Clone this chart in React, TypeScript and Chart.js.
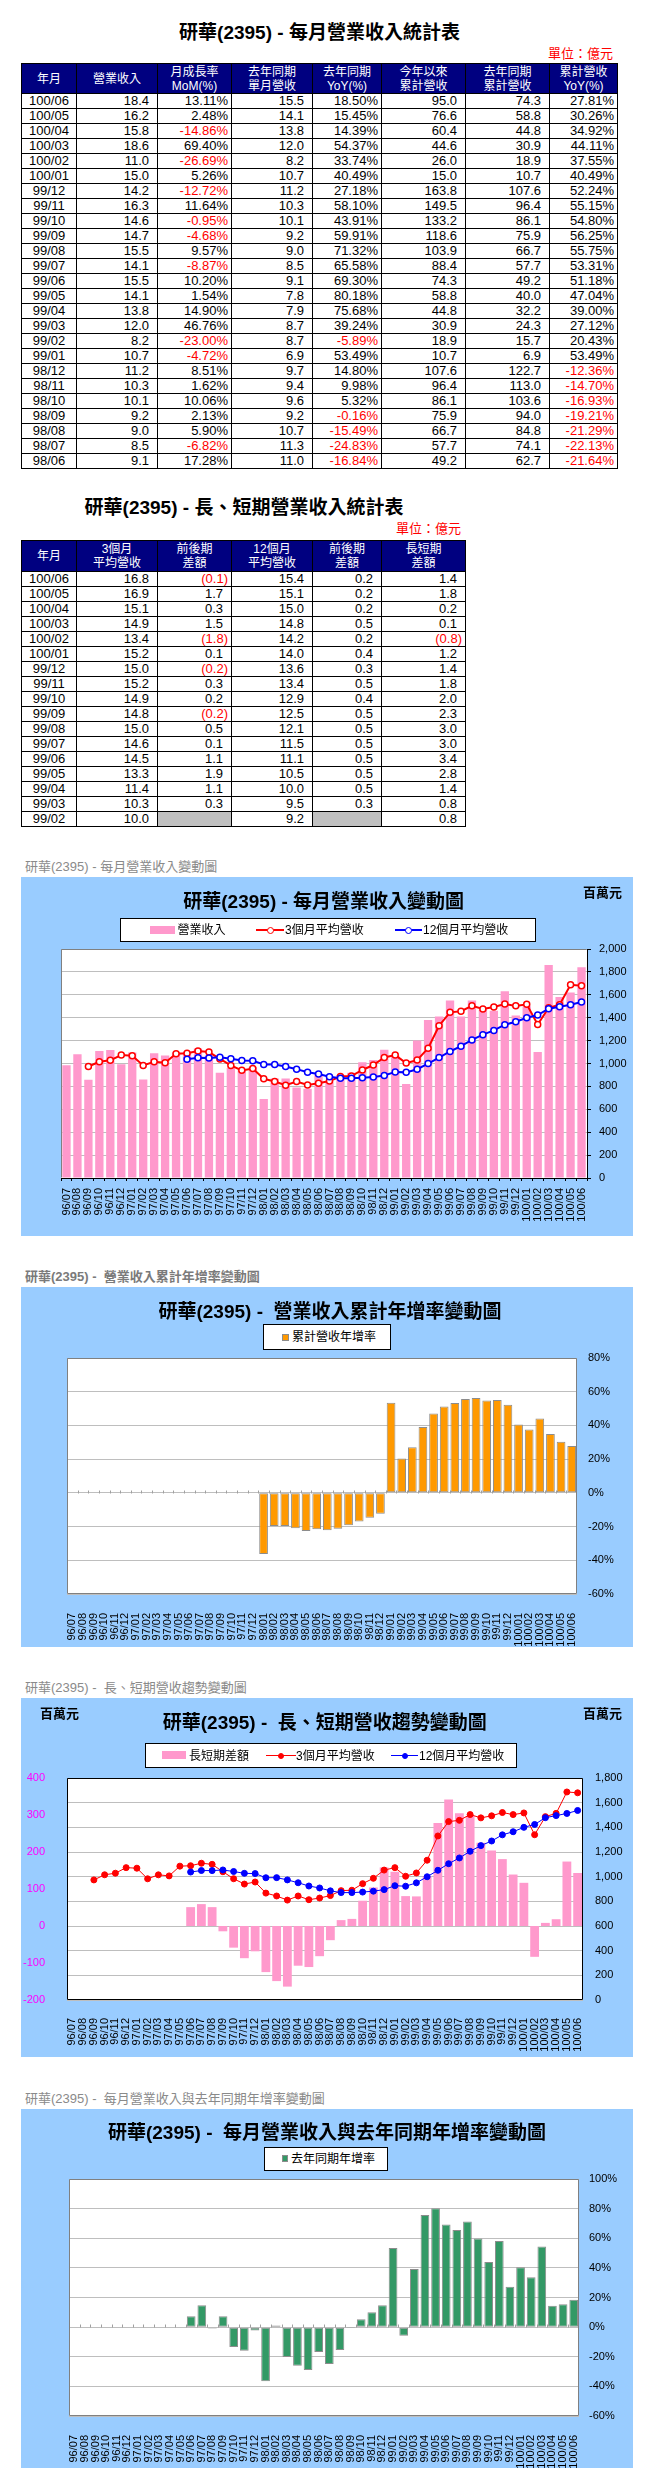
import React, { useEffect, useRef } from 'react';
import { Chart, registerables } from 'chart.js';

Chart.register(...registerables);

const FONT = "'Liberation Sans', 'Noto Sans CJK TC', sans-serif";
Chart.defaults.font.family = FONT;

// ---------------- Table 1 (億元) ----------------
const t1Months = ['100/06','100/05','100/04','100/03','100/02','100/01','99/12','99/11','99/10','99/09','99/08','99/07','99/06','99/05','99/04','99/03','99/02','99/01','98/12','98/11','98/10','98/09','98/08','98/07','98/06'];
const t1Revenue = [18.4,16.2,15.8,18.6,11.0,15.0,14.2,16.3,14.6,14.7,15.5,14.1,15.5,14.1,13.8,12.0,8.2,10.7,11.2,10.3,10.1,9.2,9.0,8.5,9.1];
const t1MoM = [13.11,2.48,-14.86,69.40,-26.69,5.26,-12.72,11.64,-0.95,-4.68,9.57,-8.87,10.20,1.54,14.90,46.76,-23.00,-4.72,8.51,1.62,10.06,2.13,5.90,-6.82,17.28];
const t1LastYear = [15.5,14.1,13.8,12.0,8.2,10.7,11.2,10.3,10.1,9.2,9.0,8.5,9.1,7.8,7.9,8.7,8.7,6.9,9.7,9.4,9.6,9.2,10.7,11.3,11.0];
const t1YoY = [18.50,15.45,14.39,54.37,33.74,40.49,27.18,58.10,43.91,59.91,71.32,65.58,69.30,80.18,75.68,39.24,-5.89,53.49,14.80,9.98,5.32,-0.16,-15.49,-24.83,-16.84];
const t1Cum = [95.0,76.6,60.4,44.6,26.0,15.0,163.8,149.5,133.2,118.6,103.9,88.4,74.3,58.8,44.8,30.9,18.9,10.7,107.6,96.4,86.1,75.9,66.7,57.7,49.2];
const t1LastCum = [74.3,58.8,44.8,30.9,18.9,10.7,107.6,96.4,86.1,75.9,66.7,57.7,49.2,40.0,32.2,24.3,15.7,6.9,122.7,113.0,103.6,94.0,84.8,74.1,62.7];
const t1CumYoY = [27.81,30.26,34.92,44.11,37.55,40.49,52.24,55.15,54.80,56.25,55.75,53.31,51.18,47.04,39.00,27.12,20.43,53.49,-12.36,-14.70,-16.93,-19.21,-21.29,-22.13,-21.64];
const t1Headers = [['年月'],['營業收入'],['月成長率','MoM(%)'],['去年同期','單月營收'],['去年同期','YoY(%)'],['今年以來','累計營收'],['去年同期','累計營收'],['累計營收','YoY(%)']];

// ---------------- Table 2 (億元) ----------------
const t2Months = ['100/06','100/05','100/04','100/03','100/02','100/01','99/12','99/11','99/10','99/09','99/08','99/07','99/06','99/05','99/04','99/03','99/02'];
const t2Avg3 = [16.8,16.9,15.1,14.9,13.4,15.2,15.0,15.2,14.9,14.8,15.0,14.6,14.5,13.3,11.4,10.3,10.0];
const t2Avg3Diff = [-0.1,1.7,0.3,1.5,-1.8,0.1,-0.2,0.3,0.2,-0.2,0.5,0.1,1.1,1.9,1.1,0.3,null];
const t2Avg12 = [15.4,15.1,15.0,14.8,14.2,14.0,13.6,13.4,12.9,12.5,12.1,11.5,11.1,10.5,10.0,9.5,9.2];
const t2Avg12Diff = [0.2,0.2,0.2,0.5,0.2,0.4,0.3,0.5,0.4,0.5,0.5,0.5,0.5,0.5,0.5,0.3,null];
const t2Gap = [1.4,1.8,0.2,0.1,-0.8,1.2,1.4,1.8,2.0,2.3,3.0,3.0,3.4,2.8,1.4,0.8,0.8];
const t2Headers = [['年月'],['3個月','平均營收'],['前後期','差額'],['12個月','平均營收'],['前後期','差額'],['長短期','差額']];

// ---------------- Charts (百萬元 / %) ----------------
const months = ['96/07','96/08','96/09','96/10','96/11','96/12','97/01','97/02','97/03','97/04','97/05','97/06','97/07','97/08','97/09','97/10','97/11','97/12','98/01','98/02','98/03','98/04','98/05','98/06','98/07','98/08','98/09','98/10','98/11','98/12','99/01','99/02','99/03','99/04','99/05','99/06','99/07','99/08','99/09','99/10','99/11','99/12','100/01','100/02','100/03','100/04','100/05','100/06'];
const revenue = [984,1080,857,1109,1118,993,1095,860,1090,1069,1097,1100,1130,1070,920,960,940,970,690,870,870,790,780,910,850,900,920,1010,1030,1120,1070,820,1200,1380,1410,1550,1410,1550,1470,1460,1630,1420,1500,1100,1860,1580,1620,1840];
const avg3m = [null,null,973.7,1015.3,1028,1073.3,1068.7,982.7,1015,1006.3,1085.3,1088.7,1109,1100,1040,983.3,940,956.7,866.7,843.3,810,843.3,813.3,826.7,846.7,886.7,890,943.3,986.7,1053.3,1073.3,1003.3,1030,1133.3,1330,1446.7,1456.7,1503.3,1476.7,1493.3,1520,1503.3,1516.7,1340,1486.7,1513.3,1686.7,1680];
const avg12m = [null,null,null,null,null,null,null,null,null,null,null,1037.7,1049.8,1049,1054.3,1041.8,1027,1025.1,991.3,992.2,973.8,950.6,924.2,908.3,885,870.8,870.8,875,882.5,895,926.7,922.5,950,999.2,1051.7,1105,1151.7,1205.8,1251.7,1289.2,1339.2,1364.2,1400,1423.3,1478.3,1495,1512.5,1536.7];
const longShortDiff = [null,null,null,null,null,null,null,null,null,null,null,51,59.2,51,-14.3,-58.5,-87,-68.4,-124.6,-148.9,-163.8,-107.3,-110.9,-81.6,-38.3,15.9,19.2,68.3,104.2,158.3,146.6,80.8,80,134.1,278.3,341.7,305,297.5,225,204.1,180.8,139.1,116.7,-83.3,8.4,18.3,174.2,143.3];
const cumYoY = [null,null,null,null,null,null,null,null,null,null,null,null,null,null,null,null,null,null,-36.2,-19.6,-19.6,-21.0,-22.6,-21.64,-22.13,-21.29,-19.21,-16.93,-14.70,-12.36,53.49,20.43,27.12,39.00,47.04,51.18,53.31,55.75,56.25,54.80,55.15,52.24,40.49,37.55,44.11,34.92,30.26,27.81];
const monthYoY = [null,null,null,null,null,null,null,null,null,null,null,7.3,14.8,-0.9,7.3,-13.4,-15.9,-2.3,-36.6,1.1,-20.2,-26.1,-28.9,-16.84,-24.83,-15.49,-0.16,5.32,9.98,14.80,53.49,-5.89,39.24,75.68,80.18,69.30,65.58,71.32,59.91,43.91,58.10,27.18,40.49,33.74,54.37,14.39,15.45,18.50];

// ---------------- helpers ----------------
const fmt1 = (v: number) => v.toFixed(1);
const fmtPct = (v: number) => v.toFixed(2) + '%';
const fmtParen = (v: number) => (v < 0 ? `(${Math.abs(v).toFixed(1)})` : v.toFixed(1));
const fmtThousands = (v: any) => Number(v).toLocaleString('en-US');

type Cell = { t: string; red?: boolean; gray?: boolean; center?: boolean; pad?: number };

function Table({ top, cols, headH, rowH, headers, rows }: { top: number; cols: number[]; headH: number; rowH: number; headers: string[][]; rows: Cell[][] }) {
  const out: any[] = [];
  headers.forEach((h, i) => {
    out.push(
      <div key={'h' + i} style={{ position: 'absolute', left: cols[i], top, width: cols[i + 1] - cols[i] + 1, height: headH + 1, boxSizing: 'border-box', border: '1px solid #000', background: '#000080', color: '#fff', display: 'flex', flexDirection: 'column', justifyContent: 'center', alignItems: 'center', fontFamily: FONT, fontSize: 12, lineHeight: '14px' }}>
        {h.map((l, k) => <div key={k}>{l}</div>)}
      </div>
    );
  });
  rows.forEach((r, ri) => {
    r.forEach((c, ci) => {
      out.push(
        <div key={ri + '_' + ci} style={{ position: 'absolute', left: cols[ci], top: top + headH + ri * rowH, width: cols[ci + 1] - cols[ci] + 1, height: rowH + 1, boxSizing: 'border-box', border: '1px solid #000', background: c.gray ? '#C0C0C0' : '#fff', color: c.red ? '#FF0000' : '#000', textAlign: c.center ? 'center' : 'right', paddingRight: c.center ? 0 : c.pad ?? 7, fontFamily: FONT, fontSize: 13, lineHeight: (rowH - 1) + 'px', whiteSpace: 'nowrap', overflow: 'hidden' }}>
          {c.t}
        </div>
      );
    });
  });
  return <>{out}</>;
}

function Txt({ x, y, align = 'left', size = 13, bold = false, color = '#000', children }: any) {
  const w = 600;
  const left = align === 'left' ? x : align === 'center' ? x - w / 2 : x - w;
  return (
    <div style={{ position: 'absolute', left, top: y - size, width: w, height: size * 2, lineHeight: `${size * 2}px`, fontSize: size, fontWeight: bold ? 'bold' : 'normal', color, textAlign: align, whiteSpace: 'pre', fontFamily: FONT }}>
      {children}
    </div>
  );
}

function ChartCanvas({ left, top, width, height, config }: { left: number; top: number; width: number; height: number; config: () => any }) {
  const ref = useRef<HTMLCanvasElement>(null);
  useEffect(() => {
    if (!ref.current) return;
    const chart = new Chart(ref.current, config());
    return () => chart.destroy();
  }, []);
  return <canvas ref={ref} width={width} height={height} style={{ position: 'absolute', left, top, width, height }} />;
}

const plotBg = {
  id: 'plotBg',
  beforeDraw(chart: any) {
    const { ctx, chartArea: a } = chart;
    ctx.save();
    ctx.fillStyle = '#FFFFFF';
    ctx.fillRect(a.left, a.top, a.right - a.left, a.bottom - a.top);
    ctx.restore();
  },
};

function frame(color: string, sides: string) {
  return {
    id: 'frame',
    afterDatasetsDraw(chart: any) {
      const { ctx, chartArea: a } = chart;
      const l = Math.round(a.left) + 0.5, t = Math.round(a.top) + 0.5, r = Math.round(a.right) - 0.5, b = Math.round(a.bottom) - 0.5;
      ctx.save();
      ctx.strokeStyle = color;
      ctx.lineWidth = 1;
      ctx.beginPath();
      if (sides.includes('l')) { ctx.moveTo(l, t); ctx.lineTo(l, b); }
      if (sides.includes('t')) { ctx.moveTo(l, t); ctx.lineTo(r, t); }
      if (sides.includes('r')) { ctx.moveTo(r, t); ctx.lineTo(r, b); }
      if (sides.includes('b')) { ctx.moveTo(l, b); ctx.lineTo(r, b); }
      ctx.stroke();
      ctx.restore();
    },
  };
}

const zeroTicks = {
  id: 'zeroTicks',
  beforeDatasetsDraw(chart: any) {
    const { ctx, scales } = chart;
    const xs = scales.x;
    const y0 = Math.round(scales.y.getPixelForValue(0)) + 0.5;
    const n = chart.data.labels.length;
    ctx.save();
    ctx.strokeStyle = '#A0A0A0';
    ctx.lineWidth = 1;
    ctx.beginPath();
    for (let i = 1; i < n; i++) {
      const px = Math.round((xs.getPixelForValue(i - 1) + xs.getPixelForValue(i)) / 2) + 0.5;
      ctx.moveTo(px, y0);
      ctx.lineTo(px, y0 - 3);
    }
    ctx.stroke();
    ctx.restore();
  },
};

const xRotTicks = (padding: number) => ({ autoSkip: false, minRotation: 90, maxRotation: 90, color: '#000', font: { size: 11 }, padding });

// Chart 1: 每月營業收入變動圖
const chart1Config = () => ({
  type: 'bar',
  data: {
    labels: months,
    datasets: [
      { type: 'line', label: '12個月平均營收', data: avg12m, borderColor: '#0000FF', borderWidth: 2, pointRadius: 3, pointBorderWidth: 1.5, pointBackgroundColor: '#FFFFFF', pointBorderColor: '#0000FF', order: 1 },
      { type: 'line', label: '3個月平均營收', data: avg3m, borderColor: '#FF0000', borderWidth: 2, pointRadius: 3, pointBorderWidth: 1.5, pointBackgroundColor: '#FFFFFF', pointBorderColor: '#FF0000', order: 2 },
      { type: 'bar', label: '營業收入', data: revenue, backgroundColor: '#FF99CC', categoryPercentage: 0.76, barPercentage: 1, order: 3 },
    ],
  },
  options: {
    animation: false, responsive: false,
    layout: { padding: { left: 40, top: 72, right: 0, bottom: 0 } },
    plugins: { legend: { display: false }, title: { display: false }, tooltip: { enabled: false } },
    scales: {
      x: {
        offset: true,
        grid: { display: true, drawOnChartArea: false, drawTicks: true, tickLength: 3, color: '#000', offset: true },
        border: { display: true, color: '#000' },
        ticks: xRotTicks(7),
        afterFit: (s: any) => { s.height = 58; },
      },
      y: {
        position: 'right', min: 0, max: 2000,
        ticks: { stepSize: 200, color: '#000', font: { size: 11 }, padding: 8, callback: fmtThousands },
        grid: { color: '#BEBEBE', tickColor: '#000', tickLength: 4, drawTicks: true },
        border: { display: true, color: '#000' },
        afterFit: (s: any) => { s.width = 46; },
      },
    },
  },
  plugins: [plotBg, frame('#808080', 'lt')],
});

// Chart 2: 營業收入累計年增率變動圖
const chart2Config = () => ({
  type: 'bar',
  data: {
    labels: months,
    datasets: [
      { label: '累計營收年增率', data: cumYoY, backgroundColor: '#FF9900', borderColor: '#8C8C8C', borderWidth: 1, borderSkipped: false, categoryPercentage: 0.82, barPercentage: 1 },
    ],
  },
  options: {
    animation: false, responsive: false,
    layout: { padding: { left: 46, top: 71, right: 0, bottom: 0 } },
    plugins: { legend: { display: false }, title: { display: false }, tooltip: { enabled: false } },
    scales: {
      x: { offset: true, grid: { display: false }, border: { display: false }, ticks: xRotTicks(11), afterFit: (s: any) => { s.height = 53; } },
      y: {
        position: 'right', min: -60, max: 80,
        ticks: { stepSize: 20, color: '#000', font: { size: 11 }, padding: 11, callback: (v: any) => v + '%' },
        grid: { color: '#BEBEBE', drawTicks: false }, border: { display: false },
        afterFit: (s: any) => { s.width = 56; },
      },
    },
  },
  plugins: [plotBg, zeroTicks, frame('#808080', 'ltrb')],
});

// Chart 3: 長、短期營收趨勢變動圖
const chart3Config = () => ({
  type: 'bar',
  data: {
    labels: months,
    datasets: [
      { type: 'line', label: '12個月平均營收', data: avg12m, yAxisID: 'y1', borderColor: '#0000FF', borderWidth: 1, pointRadius: 3, pointBorderWidth: 1, pointBackgroundColor: '#0000FF', pointBorderColor: '#0000FF', order: 1 },
      { type: 'line', label: '3個月平均營收', data: avg3m, yAxisID: 'y1', borderColor: '#FF0000', borderWidth: 1, pointRadius: 3, pointBorderWidth: 1, pointBackgroundColor: '#FF0000', pointBorderColor: '#FF0000', order: 2 },
      { type: 'bar', label: '長短期差額', data: longShortDiff, yAxisID: 'y', backgroundColor: '#FF99CC', categoryPercentage: 0.82, barPercentage: 1, order: 3 },
    ],
  },
  options: {
    animation: false, responsive: false,
    layout: { padding: { left: 0, top: 80, right: 0, bottom: 0 } },
    plugins: { legend: { display: false }, title: { display: false }, tooltip: { enabled: false } },
    scales: {
      x: { offset: true, grid: { display: false }, border: { display: false }, ticks: xRotTicks(10), afterFit: (s: any) => { s.height = 57; } },
      y: {
        position: 'left', min: -200, max: 400,
        ticks: { stepSize: 100, color: '#FF00FF', font: { size: 11 }, padding: 14 },
        grid: { display: false }, border: { display: false },
        afterFit: (s: any) => { s.width = 46; },
      },
      y1: {
        position: 'right', min: 0, max: 1800,
        ticks: { stepSize: 200, color: '#000', font: { size: 11 }, padding: 12, callback: fmtThousands },
        grid: { color: '#BEBEBE', drawTicks: false }, border: { display: false },
        afterFit: (s: any) => { s.width = 50; },
      },
    },
  },
  plugins: [plotBg, frame('#000000', 'ltrb')],
});

// Chart 4: 每月營業收入與去年同期年增率變動圖
const chart4Config = () => ({
  type: 'bar',
  data: {
    labels: months,
    datasets: [
      { label: '去年同期年增率', data: monthYoY, backgroundColor: '#339966', borderColor: '#8C8C8C', borderWidth: 1, borderSkipped: false, categoryPercentage: 0.82, barPercentage: 1 },
    ],
  },
  options: {
    animation: false, responsive: false,
    layout: { padding: { left: 48, top: 70, right: 0, bottom: 0 } },
    plugins: { legend: { display: false }, title: { display: false }, tooltip: { enabled: false } },
    scales: {
      x: { offset: true, grid: { display: false }, border: { display: false }, ticks: xRotTicks(11), afterFit: (s: any) => { s.height = 52; } },
      y: {
        position: 'right', min: -60, max: 100,
        ticks: { stepSize: 20, color: '#000', font: { size: 11 }, padding: 10, callback: (v: any) => v + '%' },
        grid: { color: '#BEBEBE', drawTicks: false }, border: { display: false },
        afterFit: (s: any) => { s.width = 54; },
      },
    },
  },
  plugins: [plotBg, zeroTicks, frame('#808080', 'ltrb')],
});

const abs = (left: number, top: number, width: number, height: number, extra: any = {}) => ({ position: 'absolute' as const, left, top, width, height, ...extra });

function LineMark({ x1, x2, y, color, filled, r, w }: any) {
  const cx = (x1 + x2) / 2;
  return (
    <>
      <div style={abs(x1, y - w / 2, x2 - x1, w, { background: color })} />
      <div style={abs(cx - r, y - r, r * 2, r * 2, { borderRadius: '50%', boxSizing: 'border-box', border: `1.5px solid ${color}`, background: filled ? color : '#fff' })} />
    </>
  );
}

export default function App() {
  const rows1: Cell[][] = t1Months.map((m, i) => [
    { t: m, center: true },
    { t: fmt1(t1Revenue[i]), pad: 8 },
    { t: fmtPct(t1MoM[i]), red: t1MoM[i] < 0, pad: 3 },
    { t: fmt1(t1LastYear[i]), pad: 8 },
    { t: fmtPct(t1YoY[i]), red: t1YoY[i] < 0, pad: 3 },
    { t: fmt1(t1Cum[i]), pad: 8 },
    { t: fmt1(t1LastCum[i]), pad: 8 },
    { t: fmtPct(t1CumYoY[i]), red: t1CumYoY[i] < 0, pad: 3 },
  ]);
  const parenCell = (v: number | null): Cell => (v === null ? { t: '', gray: true } : { t: fmtParen(v), red: v < 0, pad: v < 0 ? 3 : 8 });
  const rows2: Cell[][] = t2Months.map((m, i) => [
    { t: m, center: true },
    { t: fmt1(t2Avg3[i]), pad: 8 },
    parenCell(t2Avg3Diff[i]),
    { t: fmt1(t2Avg12[i]), pad: 8 },
    parenCell(t2Avg12Diff[i]),
    parenCell(t2Gap[i]),
  ]);

  const cols1 = [21, 76, 157, 231, 312, 381, 465, 549, 617];
  const cols2 = [21, 76, 157, 231, 312, 381, 465];
  const blue = '#99CCFF';
  const capColor = '#8A8A8A';

  return (
    <div style={{ position: 'absolute', left: 0, top: 0, width: 655, height: 2478, overflow: 'hidden', background: '#fff', fontFamily: FONT }}>
      {/* Table 1 */}
      <Txt x={319.5} y={33.3} align="center" size={19} bold>研華(2395) - 每月營業收入統計表</Txt>
      <Txt x={613} y={54} align="right" size={13} color="#FF0000">單位：億元</Txt>
      <Table top={63} cols={cols1} headH={30} rowH={15} headers={t1Headers} rows={rows1} />

      {/* Table 2 */}
      <Txt x={244} y={508.3} align="center" size={19} bold>研華(2395) - 長、短期營業收入統計表</Txt>
      <Txt x={461} y={529.3} align="right" size={13} color="#FF0000">單位：億元</Txt>
      <Table top={540} cols={cols2} headH={31} rowH={15} headers={t2Headers} rows={rows2} />

      {/* Chart 1 */}
      <Txt x={25} y={866.7} size={13} color={capColor}>研華(2395) - 每月營業收入變動圖</Txt>
      <div style={abs(21, 877, 612, 359, { background: blue })} />
      <ChartCanvas left={21} top={877} width={612} height={359} config={chart1Config} />
      <Txt x={323.7} y={901.7} align="center" size={19} bold>研華(2395) - 每月營業收入變動圖</Txt>
      <Txt x={583} y={892.7} size={13} bold>百萬元</Txt>
      <div style={abs(120, 918, 416, 24, { background: '#fff', border: '1px solid #000', boxSizing: 'border-box' })} />
      <div style={abs(150, 926, 25, 8, { background: '#FF99CC' })} />
      <Txt x={177.5} y={930} size={12}>營業收入</Txt>
      <LineMark x1={256} x2={284} y={930} color="#FF0000" r={3.5} w={2} />
      <Txt x={285} y={930} size={12}>3個月平均營收</Txt>
      <LineMark x1={395} x2={422} y={930} color="#0000FF" r={3.5} w={2} />
      <Txt x={423} y={930} size={12}>12個月平均營收</Txt>

      {/* Chart 2 */}
      <Txt x={25} y={1277.3} size={13} bold color="#7A7A7A">研華(2395) -  營業收入累計年增率變動圖</Txt>
      <div style={abs(21, 1287, 612, 360, { background: blue })} />
      <ChartCanvas left={21} top={1287} width={612} height={360} config={chart2Config} />
      <Txt x={330} y={1311.7} align="center" size={19} bold>研華(2395) -  營業收入累計年增率變動圖</Txt>
      <div style={abs(263, 1324, 128, 26, { background: '#fff', border: '1px solid #000', boxSizing: 'border-box' })} />
      <div style={abs(282, 1334, 7, 7, { background: '#FF9900', border: '1px solid #8C8C8C', boxSizing: 'border-box' })} />
      <Txt x={292} y={1337} size={12}>累計營收年增率</Txt>

      {/* Chart 3 */}
      <Txt x={25} y={1688.3} size={13} color={capColor}>研華(2395) -  長、短期營收趨勢變動圖</Txt>
      <div style={abs(21, 1698, 612, 359, { background: blue })} />
      <ChartCanvas left={21} top={1698} width={612} height={359} config={chart3Config} />
      <Txt x={324.8} y={1722.7} align="center" size={19} bold>研華(2395) -  長、短期營收趨勢變動圖</Txt>
      <Txt x={40} y={1714} size={13} bold>百萬元</Txt>
      <Txt x={583} y={1714} size={13} bold>百萬元</Txt>
      <div style={abs(145, 1743, 372, 25, { background: '#fff', border: '1px solid #000', boxSizing: 'border-box' })} />
      <div style={abs(162, 1751, 24, 8, { background: '#FF99CC' })} />
      <Txt x={189} y={1755.5} size={12}>長短期差額</Txt>
      <LineMark x1={266} x2={296} y={1755.5} color="#FF0000" filled r={3} w={1} />
      <Txt x={296} y={1755.5} size={12}>3個月平均營收</Txt>
      <LineMark x1={391} x2={418} y={1755.5} color="#0000FF" filled r={3} w={1} />
      <Txt x={419} y={1755.5} size={12}>12個月平均營收</Txt>

      {/* Chart 4 */}
      <Txt x={25} y={2099} size={13} color={capColor}>研華(2395) -  每月營業收入與去年同期年增率變動圖</Txt>
      <div style={abs(21, 2109, 612, 359, { background: blue })} />
      <ChartCanvas left={21} top={2109} width={612} height={359} config={chart4Config} />
      <Txt x={327} y={2132.7} align="center" size={19} bold>研華(2395) -  每月營業收入與去年同期年增率變動圖</Txt>
      <div style={abs(264, 2147, 124, 24, { background: '#fff', border: '1px solid #000', boxSizing: 'border-box' })} />
      <div style={abs(282, 2155, 6, 7, { background: '#339966', border: '1px solid #8C8C8C', boxSizing: 'border-box' })} />
      <Txt x={291} y={2158.5} size={12}>去年同期年增率</Txt>
    </div>
  );
}
